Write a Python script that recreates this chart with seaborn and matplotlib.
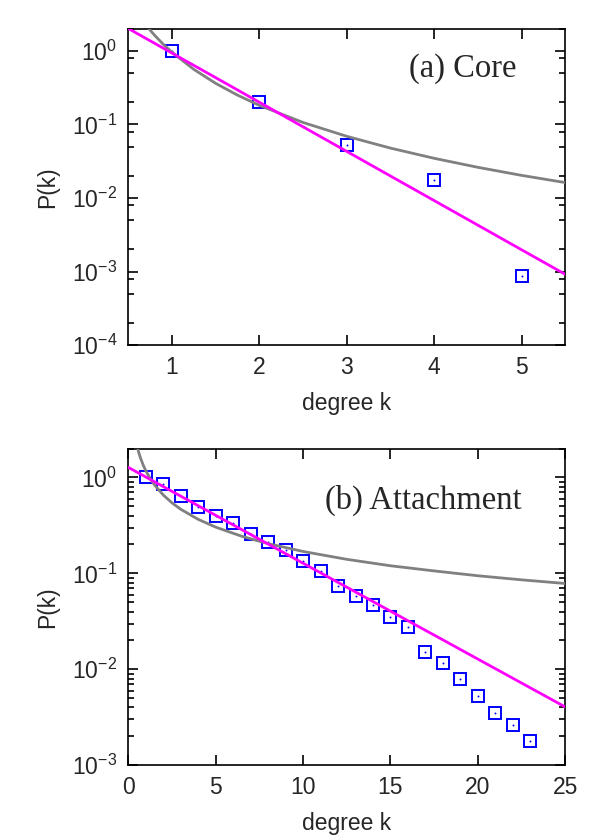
import matplotlib
matplotlib.use('Agg')
import matplotlib.pyplot as plt
import seaborn as sns
from matplotlib.ticker import LogLocator, NullFormatter, FixedLocator, NullLocator

# (a) Core: measured P(k)
core_k = [1, 2, 3, 4, 5]
core_p = [1.0, 0.20, 0.053, 0.0175, 0.00088]
# exponential fit (straight line on semilog axes), read at the axis edges
core_exp_k = [0.5, 5.5]
core_exp_p = [2.0, 0.00092]
# power-law fit
core_pow_k = [0.73, 0.8, 0.9, 1.0, 1.25, 1.5, 1.75, 2.0, 2.5, 3.0, 3.5, 4.0, 4.5, 5.0, 5.5]
core_pow_p = [2.02, 1.62, 1.22, 0.95, 0.557, 0.360, 0.249, 0.181, 0.106, 0.0688,
              0.0476, 0.0346, 0.0261, 0.0203, 0.0162]

# (b) Attachment: measured P(k)
att_k = list(range(1, 24))
att_p = [1.0, 0.85, 0.64, 0.487, 0.395, 0.332, 0.26, 0.212, 0.174, 0.135, 0.107,
         0.074, 0.058, 0.0465, 0.0348, 0.0276, 0.0150, 0.0115, 0.0079, 0.0053,
         0.0035, 0.00265, 0.00177]
att_exp_k = [0.0, 25.0]
att_exp_p = [1.27, 0.00405]
att_pow_k = [0.52, 0.6, 0.7, 0.85, 1.0, 1.25, 1.5, 2.0, 2.5, 3.0, 4.0, 5.0, 6.5, 8.0,
             10.0, 12.5, 15.0, 17.5, 20.0, 22.5, 25.0]
att_pow_p = [2.03, 1.80, 1.58, 1.34, 1.17, 0.97, 0.832, 0.654, 0.542, 0.465, 0.365,
             0.303, 0.243, 0.204, 0.169, 0.140, 0.120, 0.106, 0.0944, 0.0856, 0.0784]

sns.set_style('ticks')
plt.rcParams['font.family'] = ['Liberation Sans', 'DejaVu Sans']
plt.rcParams['axes.linewidth'] = 1.2
plt.rcParams['axes.unicode_minus'] = False

fig, axes = plt.subplots(2, 1, figsize=(6, 8.4), dpi=100)
fig.subplots_adjust(left=0.214, right=0.942, top=0.966, bottom=0.089, hspace=0.326)


def panel(ax, k, p, exp_k, exp_p, pow_k, pow_p, title, xlim, ylim, xticks, subs, tx, ty):
    ax.set_yscale('log')
    # data squares with a tiny dot in the middle
    sns.lineplot(x=k, y=p, ax=ax, estimator=None, linestyle='', marker='s', ms=8.5,
                 mfc='none', mec='#0000ff', mew=1.4, zorder=2)
    sns.lineplot(x=k, y=p, ax=ax, estimator=None, linestyle='', marker='o', ms=1.4,
                 mfc='#0000ff', mec='#0000ff', mew=0, zorder=2)
    sns.lineplot(x=pow_k, y=pow_p, ax=ax, estimator=None, color='#808080', lw=2.0, zorder=3)
    sns.lineplot(x=exp_k, y=exp_p, ax=ax, estimator=None, color='#ff00ff', lw=2.0, zorder=4)

    ax.set_xlim(*xlim)
    ax.set_ylim(*ylim)
    ax.xaxis.set_major_locator(FixedLocator(xticks))
    ax.xaxis.set_minor_locator(NullLocator())
    ax.yaxis.set_major_locator(LogLocator(base=10, numticks=12))
    ax.yaxis.set_minor_locator(LogLocator(base=10, subs=subs, numticks=12))
    ax.yaxis.set_minor_formatter(NullFormatter())
    ax.tick_params(which='both', direction='in', top=True, right=True, width=1.2,
                   labelsize=16.5, color='black')
    ax.tick_params(which='major', length=7)
    ax.tick_params(which='minor', length=4)
    ax.tick_params(axis='x', pad=8)
    ax.tick_params(axis='y', pad=8)

    ax.set_xlabel('degree k', fontsize=16.5)
    ax.set_ylabel('P(k)', fontsize=16.5)
    ax.xaxis.set_label_coords(0.5, -0.183)
    ax.xaxis.label.set_va('center')
    ax.yaxis.set_label_coords(-0.184, 0.5)
    ax.yaxis.label.set_va('center')

    ax.text(tx, ty, title, transform=ax.transAxes, ha='right', va='center',
            fontsize=23.5, family='Liberation Serif')
    for s in ax.spines.values():
        s.set_color('black')


panel(axes[0], core_k, core_p, core_exp_k, core_exp_p, core_pow_k, core_pow_p,
      '(a) Core', (0.5, 5.5), (1e-4, 2.0), [1, 2, 3, 4, 5], [2, 5, 8], 0.888, 0.875)
panel(axes[1], att_k, att_p, att_exp_k, att_exp_p, att_pow_k, att_pow_p,
      '(b) Attachment', (0, 25), (1e-3, 2.0), [0, 5, 10, 15, 20, 25],
      [2, 3, 4, 5, 6, 7, 8, 9], 0.90, 0.837)

fig.savefig('out.png', dpi=100)
